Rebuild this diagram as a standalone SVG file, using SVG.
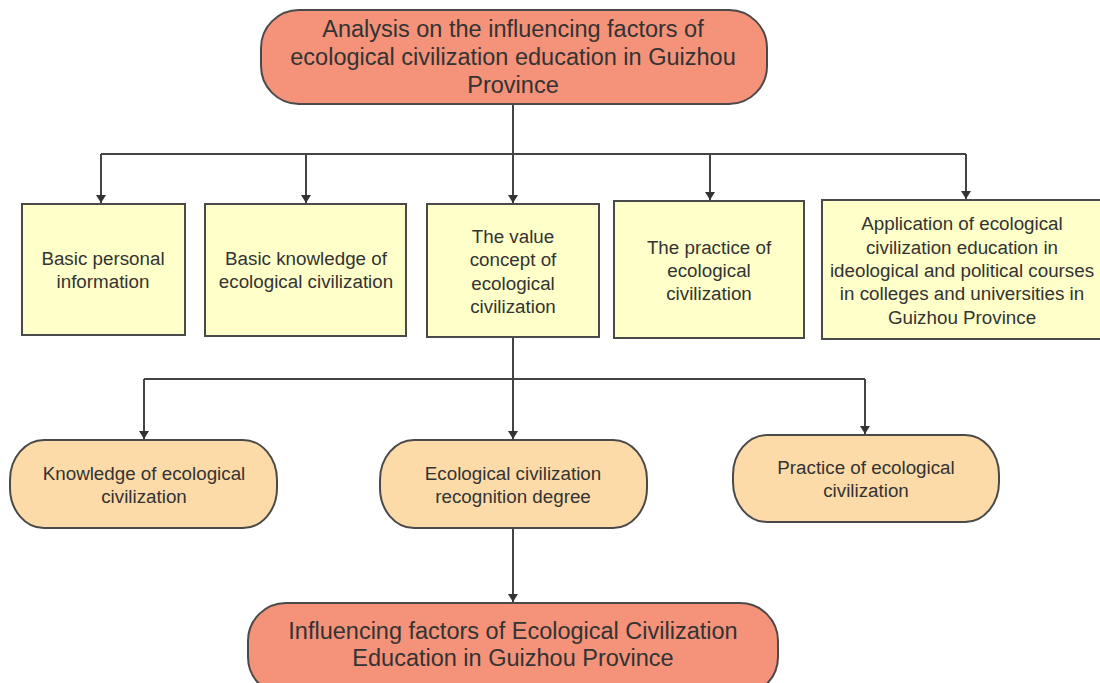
<svg xmlns="http://www.w3.org/2000/svg" width="1100" height="683" viewBox="0 0 1100 683">
<style>
.t{font-family:"Liberation Sans",Arial,sans-serif;fill:#333;text-anchor:middle}
.big{font-size:23.5px}
.mid{font-size:18.8px}
.red{fill:#F4927A;stroke:#4a4a4a;stroke-width:2}
.yel{fill:#FFFFC9;stroke:#4a4a4a;stroke-width:2}
.org{fill:#FDDBA8;stroke:#4a4a4a;stroke-width:2}
.c{fill:none;stroke:#444;stroke-width:2}
</style>
<defs>
<marker id="ah" markerWidth="8" markerHeight="10" refX="8" refY="5" orient="auto" markerUnits="userSpaceOnUse">
<path d="M0,0 L8,5 L0,10 Z" fill="#333"/>
</marker>
</defs>
<rect width="1100" height="683" fill="#fff"/>
<g id="connectors">
<path class="c" d="M513,104 V154 M101,154 H966"/>
<path class="c" d="M101,154 V203" marker-end="url(#ah)"/>
<path class="c" d="M306,154 V203" marker-end="url(#ah)"/>
<path class="c" d="M513,154 V203" marker-end="url(#ah)"/>
<path class="c" d="M710,154 V200" marker-end="url(#ah)"/>
<path class="c" d="M966,154 V199" marker-end="url(#ah)"/>
<path class="c" d="M513,337 V379 M144,379 H865"/>
<path class="c" d="M144,379 V439" marker-end="url(#ah)"/>
<path class="c" d="M513,379 V439" marker-end="url(#ah)"/>
<path class="c" d="M865,379 V434" marker-end="url(#ah)"/>
<path class="c" d="M513,528 V602" marker-end="url(#ah)"/>
</g>
<g id="top">
<rect class="red" x="261" y="10" width="506" height="94" rx="38" ry="38"/>
<text class="t big" x="513" y="37">Analysis on the influencing factors of</text>
<text class="t big" x="513" y="65">ecological civilization education in Guizhou</text>
<text class="t big" x="513" y="93">Province</text>
</g>
<g id="n1">
<rect class="yel" x="22" y="204" width="163" height="131"/>
<text class="t mid" x="103" y="265">Basic personal</text>
<text class="t mid" x="103" y="288">information</text>
</g>
<g id="n2">
<rect class="yel" x="205" y="204" width="201" height="132"/>
<text class="t mid" x="306" y="265">Basic knowledge of</text>
<text class="t mid" x="306" y="288">ecological civilization</text>
</g>
<g id="n3">
<rect class="yel" x="427" y="204" width="172" height="133"/>
<text class="t mid" x="513" y="243">The value</text>
<text class="t mid" x="513" y="266">concept of</text>
<text class="t mid" x="513" y="290">ecological</text>
<text class="t mid" x="513" y="313">civilization</text>
</g>
<g id="n4">
<rect class="yel" x="614" y="201" width="190" height="137"/>
<text class="t mid" x="709" y="254">The practice of</text>
<text class="t mid" x="709" y="277">ecological</text>
<text class="t mid" x="709" y="300">civilization</text>
</g>
<g id="n5">
<rect class="yel" x="822" y="200" width="280" height="139"/>
<text class="t mid" x="962" y="230">Application of ecological</text>
<text class="t mid" x="962" y="254">civilization education in</text>
<text class="t mid" x="962" y="277">ideological and political courses</text>
<text class="t mid" x="962" y="300">in colleges and universities in</text>
<text class="t mid" x="962" y="324">Guizhou Province</text>
</g>
<g id="r1">
<rect class="org" x="10" y="440" width="267" height="88" rx="34" ry="40"/>
<text class="t mid" x="144" y="480">Knowledge of ecological</text>
<text class="t mid" x="144" y="503">civilization</text>
</g>
<g id="r2">
<rect class="org" x="380" y="440" width="267" height="88" rx="34" ry="40"/>
<text class="t mid" x="513" y="480">Ecological civilization</text>
<text class="t mid" x="513" y="503">recognition degree</text>
</g>
<g id="r3">
<rect class="org" x="733" y="435" width="266" height="87" rx="34" ry="40"/>
<text class="t mid" x="866" y="474">Practice of ecological</text>
<text class="t mid" x="866" y="497">civilization</text>
</g>
<g id="bottom">
<rect class="red" x="248" y="603" width="530" height="92" rx="38" ry="38"/>
<text class="t big" x="513" y="639">Influencing factors of Ecological Civilization</text>
<text class="t big" x="513" y="666">Education in Guizhou Province</text>
</g>
</svg>
